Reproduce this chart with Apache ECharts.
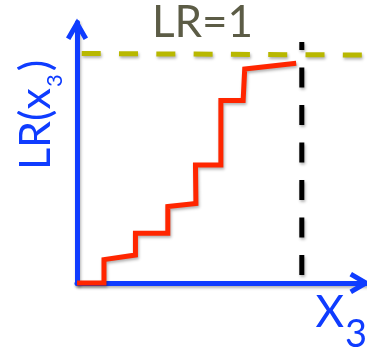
<!DOCTYPE html>
<html><head><meta charset="utf-8">
<script src="https://cdn.jsdelivr.net/npm/echarts@6/dist/echarts.min.js"></script>
<style>html,body{margin:0;padding:0;background:#fff;overflow:hidden}#c{width:367px;height:349px}</style>
</head><body><div id="c"></div>
<script>
// ---- data ----
const stepX = [0, 0.120, 0.120, 0.260, 0.260, 0.404, 0.404, 0.529, 0.527, 0.640, 0.640, 0.739, 0.746, 0.975];
const stepY = [0, 0, 0.102, 0.122, 0.217, 0.217, 0.333, 0.346, 0.514, 0.514, 0.795, 0.795, 0.932, 0.957];
const thresholdX = [1, 1];
const thresholdY = [0.035, 1.05];
const lrOneX = [0.021, 1.3];
const lrOneY = [1, 0.993];
const refLabel = 'LR=1';
const yLabelMain = 'LR(x';
const yLabelSub = '3';
const yLabelEnd = ')';
const xLabelMain = 'X';
const xLabelSub = '3';

// ---- styles ----
const BLUE = '#0f3cff';
const RED = '#ff2600';
const OLIVE = '#b8b800';
const GREY = '#5c5c46';
const FONT = 'Lato';
const shadow = {shadowColor: 'rgba(0,0,0,0.3)', shadowBlur: 3, shadowOffsetX: 1, shadowOffsetY: 2};
const chevron = 'path://M11,0 L22,19 L17.67,21.5 L11,10 L4.33,21.5 L0,19 Z';

function zip(a, b) { return a.map((v, i) => [v, b[i]]); }

const ctx = document.createElement('canvas').getContext('2d');
function tw(t, size) { ctx.font = size + 'px ' + FONT; return ctx.measureText(t).width; }

const axisLineCommon = {
  show: true, onZero: false,
  symbol: ['none', chevron], symbolSize: [22, 21.5], symbolOffset: [0, -6.75],
  lineStyle: Object.assign({color: BLUE, width: 5}, shadow)
};

const yMainSize = 43, ySubSize = 22;
const u0 = -3;
const w1 = tw(yLabelMain, yMainSize);
const w2 = tw(yLabelSub, ySubSize);

const option = {
  animation: false,
  backgroundColor: '#fff',
  grid: {left: 77, right: -5, top: 22.5, bottom: 66},
  xAxis: {type: 'value', min: 0, max: 1.29, axisLine: axisLineCommon,
    axisTick: {show: false}, axisLabel: {show: false}, splitLine: {show: false}},
  yAxis: {type: 'value', min: 0, max: 1.135, axisLine: axisLineCommon,
    axisTick: {show: false}, axisLabel: {show: false}, splitLine: {show: false}},
  series: [
    {type: 'line', data: zip(lrOneX, lrOneY), showSymbol: false, clip: false, z: 3,
      lineStyle: Object.assign({color: OLIVE, width: 5, type: [19, 18.3], cap: 'butt'}, shadow)},
    {type: 'line', data: zip(thresholdX, thresholdY), showSymbol: false, clip: false, z: 4,
      lineStyle: Object.assign({color: '#000', width: 5, type: [20, 17.5], cap: 'butt'}, shadow)},
    {type: 'line', data: zip(stepX, stepY), showSymbol: false, clip: false, z: 5,
      lineStyle: Object.assign({color: RED, width: 5, join: 'miter'}, shadow)}
  ],
  graphic: [
    {type: 'text', x: 202.5, y: 23, style: {text: refLabel, font: '44px ' + FONT, fill: GREY, align: 'center', verticalAlign: 'middle'}},
    {type: 'group', x: 53, y: 167, rotation: Math.PI / 2, children: [
      {type: 'text', x: u0, y: -0.387 * yMainSize, style: {text: yLabelMain, font: yMainSize + 'px ' + FONT, fill: BLUE, align: 'left', verticalAlign: 'middle'}},
      {type: 'text', x: u0 + w1 + 1, y: 10 - 0.387 * ySubSize, style: {text: yLabelSub, font: ySubSize + 'px ' + FONT, fill: BLUE, align: 'left', verticalAlign: 'middle'}},
      {type: 'text', x: u0 + w1 + w2 + 4, y: -0.387 * yMainSize, style: {text: yLabelEnd, font: yMainSize + 'px ' + FONT, fill: BLUE, align: 'left', verticalAlign: 'middle'}}
    ]},
    {type: 'text', x: 315.5, y: 313, style: {text: xLabelMain, font: '44px ' + FONT, fill: BLUE, align: 'left', verticalAlign: 'middle'}},
    {type: 'text', x: 345, y: 334.3, style: {text: xLabelSub, font: '38px ' + FONT, fill: BLUE, align: 'left', verticalAlign: 'middle'}}
  ]
};
const chart = echarts.init(document.getElementById('c'), null, {renderer: 'canvas'});
chart.setOption(option);
</script>
</body></html>
